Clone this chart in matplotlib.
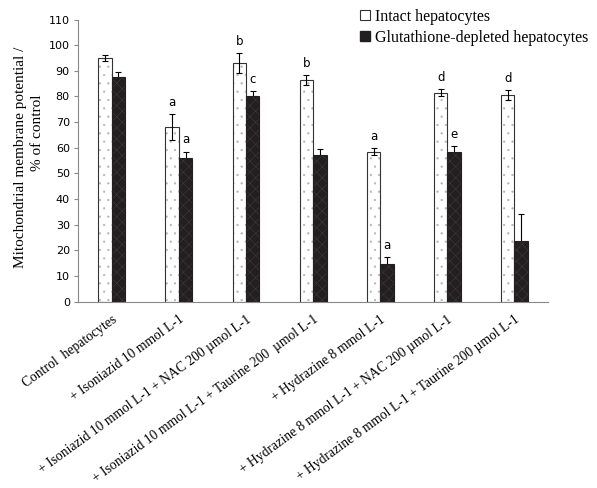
import matplotlib
matplotlib.use("Agg")
import matplotlib.pyplot as plt
import numpy as np
from matplotlib.patches import Patch

categories = [
    "Control  hepatocytes",
    "+ Isoniazid 10 mmol L-1",
    "+ Isoniazid 10 mmol L-1 + NAC 200 µmol L-1",
    "+ Isoniazid 10 mmol L-1 + Taurine 200  µmol L-1",
    "+ Hydrazine 8 mmol L-1",
    "+ Hydrazine 8 mmol L-1 + NAC 200 µmol L-1",
    "+ Hydrazine 8 mmol L-1 + Taurine 200 µmol L-1",
]
intact = [95, 68, 93, 86.5, 58.5, 81.5, 80.5]
intact_err = [1, 5, 4, 2, 1.3, 1.5, 2]
depleted = [87.5, 56, 80, 57, 14.5, 58.5, 23.5]
depleted_err = [2, 2.5, 2, 2.6, 3, 2, 10.5]
intact_letters = ["", "a", "b", "b", "a", "d", "d"]
depleted_letters = ["", "a", "c", "", "a", "e", ""]
series_names = ["Intact hepatocytes", "Glutathione-depleted hepatocytes"]

plt.rcParams["hatch.linewidth"] = 0.4

fig = plt.figure(figsize=(5.97, 4.88), dpi=100)
ax = fig.add_axes([0.131, 0.382, 0.787, 0.578])

x = np.arange(len(categories))
w = 0.2

# intact bars: dotted fill
ax.bar(x - w / 2, intact, w, color="white", edgecolor="#b5b5b5", hatch="..", linewidth=0, zorder=2)
ax.bar(x - w / 2, intact, w, fill=False, edgecolor="#333333", linewidth=0.8, zorder=3)
# depleted bars: dark fill
ax.bar(x + w / 2, depleted, w, color="#231f20", edgecolor="#3c3a3b", hatch="xxx", linewidth=0, zorder=2)
ax.bar(x + w / 2, depleted, w, fill=False, edgecolor="#231f20", linewidth=0.8, zorder=3)

ax.errorbar(x - w / 2, intact, yerr=intact_err, fmt="none", ecolor="black",
            elinewidth=0.8, capsize=2, capthick=0.8, zorder=4)
ax.errorbar(x + w / 2, depleted, yerr=depleted_err, fmt="none", ecolor="black",
            elinewidth=0.8, capsize=2, capthick=0.8, zorder=1.5)

for i in range(len(categories)):
    if intact_letters[i]:
        ax.text(x[i] - w / 2, intact[i] + intact_err[i] + 2.0, intact_letters[i],
                ha="center", va="bottom", fontsize=8.5, family="DejaVu Sans")
    if depleted_letters[i]:
        ax.text(x[i] + w / 2, depleted[i] + depleted_err[i] + 2.0, depleted_letters[i],
                ha="center", va="bottom", fontsize=8.5, family="DejaVu Sans")

ax.set_xlim(-0.5, len(categories) - 0.5)
ax.set_ylim(0, 110)
ax.set_yticks(np.arange(0, 111, 10))
ax.tick_params(axis="y", labelsize=8, length=3, color="#888888", pad=3)
ax.tick_params(axis="x", length=0, pad=8)
ax.set_xticks(x)
ax.set_xticklabels(categories, rotation=36, ha="right", rotation_mode="anchor",
                   family="Liberation Serif", fontsize=9.8)
for s in ["top", "right"]:
    ax.spines[s].set_visible(False)
ax.spines["left"].set_color("#888888")
ax.spines["bottom"].set_color("#888888")

ax.text(-0.123, 0.512, "Mitochondrial membrane potential /", transform=ax.transAxes,
        rotation=90, ha="center", va="center", family="Liberation Serif", fontsize=11)
ax.text(-0.087, 0.597, "% of control", transform=ax.transAxes,
        rotation=90, ha="center", va="center", family="Liberation Serif", fontsize=11)

handles = [Patch(facecolor="white", edgecolor="#333333", linewidth=0.8),
           Patch(facecolor="#231f20", edgecolor="#231f20")]
fig.legend(handles, series_names, loc="upper left", bbox_to_anchor=(0.589, 1.0),
           frameon=False, prop={"family": "Liberation Serif", "size": 11.5},
           handlelength=0.6, handleheight=0.6, handletextpad=0.3, labelspacing=0.3,
           borderaxespad=0.15)

fig.savefig("out.png", dpi=100)
